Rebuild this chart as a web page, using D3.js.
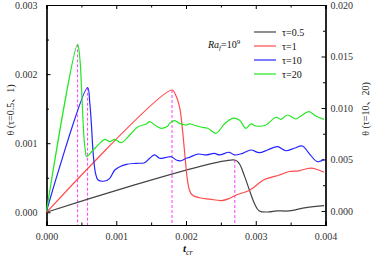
<!DOCTYPE html>
<html>
<head>
<meta charset="utf-8">
<script src="https://cdn.jsdelivr.net/npm/d3@7"></script>
<style>
  body { margin: 0; background: #fff; }
  svg { display: block; }
</style>
</head>
<body>
<div id="chart"></div>
<script>
// données
const tTau05 = [0, 0.0027, 0.00276, 0.00284, 0.00291, 0.00298, 0.00305, 0.00319, 0.00330, 0.00348, 0.00372, 0.00398];
const thTau05 = [0, 0.000757, 0.00071, 0.00052, 0.00032, 0.00013, 0.00002, 0.000005, 0.00002, 0.00002, 0.000067, 0.000095];

const tTau1 = [0, 0.0018, 0.00185, 0.00191, 0.00195, 0.00199, 0.00202, 0.00205, 0.00209, 0.00219, 0.00234, 0.00251, 0.00262, 0.00272, 0.00291, 0.00312, 0.00334, 0.00348, 0.00362, 0.00379, 0.00398];
const thTau1 = [0, 0.00177, 0.0017, 0.00151, 0.00119, 0.00076, 0.00047, 0.00032, 0.00025, 0.00021, 0.00019, 0.00017, 0.0002, 0.00025, 0.00032, 0.00047, 0.00054, 0.00059, 0.0006, 0.00064, 0.00058];

const tTau10 = [0, 0.000589, 0.000621, 0.000646, 0.000669, 0.000703, 0.00074, 0.000836, 0.000907, 0.000979, 0.00105, 0.001146, 0.001289, 0.001407, 0.001479, 0.00155, 0.001621, 0.001717, 0.001789, 0.00186, 0.001931, 0.002003, 0.00205, 0.002169, 0.002289, 0.002407, 0.002479, 0.002621, 0.002693, 0.002811, 0.002931, 0.00305, 0.003169, 0.003311, 0.003431, 0.00355, 0.003669, 0.003764, 0.003883, 0.00398];
const thTau10 = [0, 0.01197, 0.01046, 0.00818, 0.0056, 0.00366, 0.00301, 0.00291, 0.00317, 0.00398, 0.0043, 0.00453, 0.00463, 0.00469, 0.00512, 0.00544, 0.00512, 0.00521, 0.00527, 0.00495, 0.00488, 0.00512, 0.00521, 0.00553, 0.00544, 0.0056, 0.00544, 0.0057, 0.00544, 0.0056, 0.00592, 0.00566, 0.00592, 0.00624, 0.00585, 0.00609, 0.00631, 0.0056, 0.00479, 0.00502];

const tTau20 = [0, 0.000446, 0.00048, 0.0005, 0.00052, 0.00054, 0.00056, 0.000574, 0.000669, 0.000764, 0.000836, 0.000907, 0.000979, 0.001074, 0.001193, 0.001311, 0.001431, 0.001479, 0.001574, 0.001646, 0.00174, 0.001764, 0.001836, 0.001907, 0.002003, 0.00205, 0.002193, 0.002311, 0.002431, 0.00255, 0.002669, 0.002764, 0.00286, 0.002931, 0.003003, 0.003146, 0.003289, 0.00336, 0.003454, 0.003574, 0.003646, 0.003764, 0.00386, 0.00398];
const thTau20 = [0, 0.01618, 0.01466, 0.01223, 0.00932, 0.00689, 0.00573, 0.00527, 0.00592, 0.00657, 0.00696, 0.00673, 0.00696, 0.00663, 0.00738, 0.00818, 0.00845, 0.00867, 0.00825, 0.00803, 0.00825, 0.00851, 0.00877, 0.00851, 0.00835, 0.00845, 0.00818, 0.00803, 0.00754, 0.00845, 0.009, 0.00883, 0.00803, 0.00845, 0.00825, 0.00835, 0.0091, 0.0089, 0.00932, 0.00893, 0.00922, 0.00964, 0.00922, 0.0089];

const legendLabels = ["τ=0.5", "τ=1", "τ=10", "τ=20"];
const seriesColors = ["#444444", "#ff4a4a", "#2424ff", "#22e822"];
const seriesAxis = ["left", "left", "right", "right"];

const xTicks = [0, 0.001, 0.002, 0.003, 0.004];
const yLeftTicks = [0, 0.001, 0.002, 0.003];
const yRightTicks = [0, 0.005, 0.010, 0.015, 0.020];

const width = 372, height = 260;
const margin = { top: 5, right: 46.5, bottom: 35, left: 46.5 };

const svg = d3.select("#chart").append("svg")
    .attr("width", width).attr("height", height)
    .style("font-family", "'Liberation Serif', 'Noto Sans CJK SC', serif");

// échelles
const x = d3.scaleLinear().domain([0, 0.004]).range([margin.left, width - margin.right]);
const yL = d3.scaleLinear().domain([-0.000184, 0.003]).range([height - margin.bottom, margin.top]);
const yR = d3.scaleLinear().domain([-0.00136, 0.020]).range([height - margin.bottom, margin.top]);

const fmt = d3.format(".3f");
const bottomY = height - margin.bottom;

// axes (ticks vers l'intérieur)
function styleAxis(g) {
    g.selectAll("path").attr("stroke", "#000").attr("stroke-width", 1.2);
    g.selectAll("line").attr("stroke", "#000");
    g.selectAll("text").style("font-size", "10px").attr("fill", "#333")
        .style("font-family", "'Liberation Serif', serif");
}

svg.append("g").attr("transform", `translate(0,${bottomY})`)
    .call(d3.axisBottom(x).tickValues(xTicks).tickFormat(fmt).tickSize(-4).tickPadding(8))
    .call(styleAxis);
svg.append("g").attr("transform", `translate(0,${bottomY})`)
    .call(d3.axisBottom(x).tickValues(d3.range(0.0005, 0.004, 0.001)).tickFormat("").tickSize(-2.5))
    .call(styleAxis);
svg.append("g").attr("transform", `translate(0,${margin.top})`)
    .call(d3.axisTop(x).tickValues(xTicks).tickFormat("").tickSize(-4))
    .call(styleAxis);
svg.append("g").attr("transform", `translate(0,${margin.top})`)
    .call(d3.axisTop(x).tickValues(d3.range(0.0005, 0.004, 0.001)).tickFormat("").tickSize(-2.5))
    .call(styleAxis);

svg.append("g").attr("transform", `translate(${margin.left},0)`)
    .call(d3.axisLeft(yL).tickValues(yLeftTicks).tickFormat(fmt).tickSize(-4).tickPadding(9))
    .call(styleAxis);
svg.append("g").attr("transform", `translate(${margin.left},0)`)
    .call(d3.axisLeft(yL).tickValues(d3.range(0.0005, 0.003, 0.001)).tickFormat("").tickSize(-2.5))
    .call(styleAxis);

svg.append("g").attr("transform", `translate(${width - margin.right},0)`)
    .call(d3.axisRight(yR).tickValues(yRightTicks).tickFormat(fmt).tickSize(-4).tickPadding(5))
    .call(styleAxis);
svg.append("g").attr("transform", `translate(${width - margin.right},0)`)
    .call(d3.axisRight(yR).tickValues(d3.range(0.0025, 0.02, 0.005)).tickFormat("").tickSize(-2.5))
    .call(styleAxis);

// courbes
const series = [
    { t: tTau05, th: thTau05 },
    { t: tTau1, th: thTau1 },
    { t: tTau10, th: thTau10 },
    { t: tTau20, th: thTau20 }
];

const plot = svg.append("g");

// lignes pointillées aux maxima
series.forEach((s, i) => {
    const y = seriesAxis[i] === "left" ? yL : yR;
    const k = d3.maxIndex(s.th);
    plot.append("line")
        .attr("x1", x(s.t[k])).attr("x2", x(s.t[k]))
        .attr("y1", y(s.th[k])).attr("y2", bottomY)
        .attr("stroke", "#ff3cff").attr("stroke-width", 1)
        .attr("stroke-dasharray", "3,2");
});

series.forEach((s, i) => {
    const y = seriesAxis[i] === "left" ? yL : yR;
    const line = d3.line()
        .x(d => x(d[0])).y(d => y(d[1]))
        .curve(d3.curveCatmullRom.alpha(0.5));
    plot.append("path")
        .datum(d3.zip(s.t, s.th))
        .attr("fill", "none")
        .attr("stroke", seriesColors[i])
        .attr("stroke-width", 1.2)
        .attr("d", line);
});

// légende
const legend = svg.append("g").attr("transform", "translate(254,32)");
legendLabels.forEach((lab, i) => {
    legend.append("line")
        .attr("x1", 0).attr("x2", 22)
        .attr("y1", i * 14).attr("y2", i * 14)
        .attr("stroke", seriesColors[i]).attr("stroke-width", 1.2);
    legend.append("text")
        .attr("x", 28).attr("y", i * 14 + 3.5)
        .style("font-size", "10px").attr("fill", "#111")
        .text(lab);
});

// Ra_f = 10^9
const ra = svg.append("text").attr("x", 208).attr("y", 48)
    .style("font-size", "10px").attr("fill", "#111");
ra.append("tspan").style("font-style", "italic").text("Ra");
ra.append("tspan").style("font-style", "italic").style("font-size", "7px").attr("dy", 2).text("f");
ra.append("tspan").attr("dy", -2).text("=10");
ra.append("tspan").style("font-size", "7px").attr("dy", -4).text("9");

// titres d'axes
const xl = svg.append("text").attr("x", 183).attr("y", 252)
    .style("font-size", "11px").attr("fill", "#111");
xl.append("tspan").style("font-style", "italic").style("font-weight", "bold").text("t");
xl.append("tspan").style("font-style", "italic").style("font-size", "8px").attr("dy", 2.5).text("cr");

svg.append("text")
    .attr("transform", `translate(14,${(margin.top + bottomY) / 2 - 5}) rotate(-90)`)
    .attr("text-anchor", "middle")
    .style("font-size", "10px").attr("fill", "#222")
    .text("θ (τ=0.5、1)");

svg.append("text")
    .attr("transform", `translate(369,${(margin.top + bottomY) / 2 - 6}) rotate(-90)`)
    .attr("text-anchor", "middle")
    .style("font-size", "10px").attr("fill", "#222")
    .text("θ (τ=10、20)");
</script>
</body>
</html>
